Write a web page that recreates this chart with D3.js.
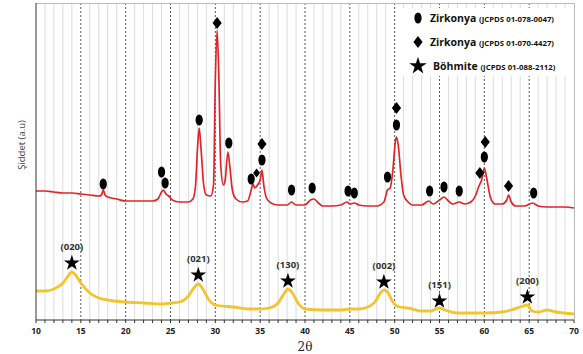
<!DOCTYPE html>
<html>
<head>
<meta charset="utf-8">
<script src="https://cdn.jsdelivr.net/npm/d3@7"></script>
<style>
  body { margin: 0; background: #fff; }
  svg { display: block; font-family: 'Open Sans', 'Noto Sans', sans-serif; }
</style>
</head>
<body>
<div id="chart"></div>
<script>
const WIDTH = 583;
const HEIGHT = 354;
const MARGIN = { top: 3, right: 9, bottom: 34, left: 36 };

// 2θ positions and intensities (a.u.)
const zirkTheta = [10, 11, 12, 13, 14, 15, 16, 17, 17.3, 17.5, 17.7, 18, 19, 20, 21, 22, 23, 23.6, 24.0, 24.2, 24.5, 24.8, 25.2, 26, 27, 27.5, 27.8, 28.0, 28.2, 28.4, 28.7, 29.0, 29.5, 29.8, 30.0, 30.2, 30.4, 30.6, 30.9, 31.1, 31.4, 31.6, 31.9, 32.3, 33, 33.6, 34.0, 34.2, 34.4, 34.7, 35.0, 35.2, 35.4, 35.7, 36.2, 37, 38, 38.5, 39, 40, 40.6, 41, 41.5, 42, 43, 44, 44.7, 45, 45.5, 46, 47, 48, 48.8, 49.2, 49.5, 49.8, 50.1, 50.2, 50.4, 50.7, 51.0, 51.5, 52, 53, 53.8, 54.3, 55.0, 55.5, 56, 56.5, 57.2, 57.8, 58.5, 59.0, 59.4, 59.7, 60.0, 60.3, 60.7, 61.2, 62, 62.5, 62.7, 63.0, 63.5, 64.5, 65.4, 66, 67, 68, 69, 70];
const zirkIntensity = [129, 129, 128, 127, 127, 126, 125, 124, 125, 130, 125, 123, 121, 119, 119, 119, 119, 121, 128, 130, 126, 124, 120, 118, 118, 121, 135, 170, 192, 172, 135, 125, 124, 135, 240, 290, 240, 155, 135, 140, 168, 155, 130, 121, 118, 119, 130, 136, 132, 135, 140, 150, 135, 122, 117, 115, 115, 118, 115, 115, 120, 121, 117, 114, 114, 115, 118, 116, 117, 115, 114, 114, 118, 130, 132, 150, 180, 183, 175, 145, 125, 118, 115, 115, 119, 116, 120, 123, 119, 116, 118, 116, 118, 124, 134, 140, 152, 140, 122, 116, 116, 120, 125, 118, 114, 114, 117, 114, 113, 113, 113, 112];

const bohmTheta = [10, 11, 12, 13, 13.5, 14.0, 14.4, 15, 16, 17, 18, 20, 22, 24, 25, 26, 27, 27.6, 28.1, 28.6, 29.3, 30, 32, 34, 35, 36, 37, 37.7, 38.1, 38.6, 39.3, 40, 42, 44, 45, 46, 47, 47.8, 48.4, 48.8, 49.2, 49.8, 50.5, 51.5, 53, 54, 55, 55.6, 57, 58, 60, 62, 63, 64, 64.8, 65.3, 66, 67, 68, 70];
const bohmIntensity = [29, 29, 31, 37, 43, 48, 45, 37, 27, 22, 20, 18, 17, 16, 17, 18, 24, 32, 36, 31, 20, 15, 13, 11, 11, 12, 17, 27, 31, 27, 16, 11, 10, 10, 11, 11, 13, 18, 27, 30, 28, 18, 13, 12, 9, 9, 12, 10, 7, 7, 7, 8, 10, 13, 15, 9, 8, 10, 8, 6];

// phase markers: [2θ, height]
const ovalMarks = [[17.5, 136], [24.0, 148], [24.4, 137], [28.2, 200], [31.5, 177], [34.0, 141], [35.2, 160], [38.5, 130], [40.8, 132], [44.8, 129], [45.5, 127], [49.2, 143], [50.2, 195], [53.9, 129], [55.5, 133], [57.2, 129], [60.0, 163], [65.5, 127]];
const diamondMarks = [[30.2, 297], [34.6, 147], [35.2, 176], [50.2, 212], [59.5, 147], [60.1, 178], [62.7, 134]];
const starMarks = [[14.0, 57], [28.1, 45], [38.1, 39], [48.8, 38], [55.0, 19], [64.8, 23]];
const starLabels = ['(020)', '(021)', '(130)', '(002)', '(151)', '(200)'];

const legendNames = ['Zirkonya', 'Zirkonya', 'Böhmite'];
const legendCards = ['(JCPDS 01-078-0047)', '(JCPDS 01-070-4427)', '(JCPDS 01-088-2112)'];

const xTicks = d3.range(10, 71, 5);

const svg = d3.select('#chart').append('svg')
  .attr('width', WIDTH)
  .attr('height', HEIGHT);

const innerW = WIDTH - MARGIN.left - MARGIN.right;
const innerH = HEIGHT - MARGIN.top - MARGIN.bottom;

const x = d3.scaleLinear().domain([10, 70]).range([MARGIN.left, MARGIN.left + innerW]);
const y = d3.scaleLinear().domain([0, innerH]).range([MARGIN.top + innerH, MARGIN.top]);

// grid: thin grey each degree, dashed every 5
const g = svg.append('g');
g.selectAll('line.minor')
  .data(d3.range(11, 70).filter((d) => d % 5 !== 0))
  .join('line')
  .attr('class', 'minor')
  .attr('x1', (d) => x(d)).attr('x2', (d) => x(d))
  .attr('y1', MARGIN.top).attr('y2', MARGIN.top + innerH)
  .attr('stroke', '#dcdcdc')
  .attr('stroke-width', 1);

g.selectAll('line.major')
  .data(xTicks.filter((d) => d > 10 && d < 70))
  .join('line')
  .attr('class', 'major')
  .attr('x1', (d) => x(d)).attr('x2', (d) => x(d))
  .attr('y1', MARGIN.top).attr('y2', MARGIN.top + innerH)
  .attr('stroke', '#555')
  .attr('stroke-width', 1)
  .attr('stroke-dasharray', '2,2');

// frame
g.append('path')
  .attr('d', `M${x(10)},${MARGIN.top + 0.5}H${x(70) + 0.5}V${MARGIN.top + innerH}`)
  .attr('fill', 'none')
  .attr('stroke', '#bbb');

// curves
const line = d3.line()
  .x((d) => x(d[0]))
  .y((d) => y(d[1]))
  .curve(d3.curveMonotoneX);

g.append('path')
  .datum(bohmTheta.map((t, i) => [t, bohmIntensity[i]]))
  .attr('d', line)
  .attr('fill', 'none')
  .attr('stroke', '#f3c42f')
  .attr('stroke-width', 2.8);

g.append('path')
  .datum(zirkTheta.map((t, i) => [t, zirkIntensity[i]]))
  .attr('d', line)
  .attr('fill', 'none')
  .attr('stroke', '#e0252a')
  .attr('stroke-width', 1.7);

// axes
const xAxis = svg.append('g')
  .attr('transform', 'translate(0,' + (MARGIN.top + innerH) + ')');
xAxis.append('line')
  .attr('x1', x(10)).attr('x2', x(70))
  .attr('stroke', '#333');
xAxis.selectAll('line.tick')
  .data(d3.range(10, 71))
  .join('line')
  .attr('class', 'tick')
  .attr('x1', (d) => x(d)).attr('x2', (d) => x(d))
  .attr('y1', 0).attr('y2', 3)
  .attr('stroke', '#333');
xAxis.selectAll('text')
  .data(xTicks)
  .join('text')
  .attr('x', (d) => x(d))
  .attr('y', 14)
  .attr('text-anchor', 'middle')
  .style('font-size', '8.5px')
  .style('font-weight', 'bold')
  .attr('fill', '#222')
  .text((d) => d);

svg.append('line')
  .attr('x1', x(10)).attr('x2', x(10))
  .attr('y1', MARGIN.top).attr('y2', MARGIN.top + innerH)
  .attr('stroke', '#333');

svg.append('text')
  .attr('x', (x(10) + x(70)) / 2)
  .attr('y', 351)
  .attr('text-anchor', 'middle')
  .style('font-family', "'DejaVu Serif', serif")
  .style('font-size', '12px')
  .attr('fill', '#222')
  .text('2θ');

svg.append('text')
  .attr('transform', 'translate(25,145) rotate(-90)')
  .attr('text-anchor', 'middle')
  .style('font-size', '9.5px')
  .attr('fill', '#444')
  .text('Şiddet (a.u)');

// marker symbols
const oval = (sel, s) => sel.append('ellipse').attr('rx', 3.6 * s).attr('ry', 5.6 * s).attr('fill', '#000');
const diamond = (sel, s) => sel.append('path')
  .attr('d', `M0,${-6 * s}L${4.6 * s},0L0,${6 * s}L${-4.6 * s},0Z`).attr('fill', '#000');
const star = (sel, s) => sel.append('path')
  .attr('d', d3.symbol(d3.symbolStar, 78 * s * s)()).attr('fill', '#000');

const marks = svg.append('g');
ovalMarks.forEach((d) => oval(marks.append('g').attr('transform', `translate(${x(d[0])},${y(d[1])})`), 1));
diamondMarks.forEach((d) => diamond(marks.append('g').attr('transform', `translate(${x(d[0])},${y(d[1])})`), d[0] === 34.6 ? 0.75 : 1));
starMarks.forEach((d, i) => {
  const m = marks.append('g').attr('transform', `translate(${x(d[0])},${y(d[1])})`);
  star(m, 1);
  m.append('text')
    .attr('y', -13)
    .attr('text-anchor', 'middle')
    .style('font-size', '9.5px')
    .style('font-weight', 'bold')
    .attr('fill', '#333')
    .text(starLabels[i]);
});

// legend
const legend = svg.append('g').attr('transform', 'translate(403,8)');
legend.append('rect')
  .attr('width', 166).attr('height', 68)
  .attr('fill', '#fff');
const shapes = [oval, diamond, star];
legendNames.forEach((name, i) => {
  const row = legend.append('g').attr('transform', `translate(15,${10 + i * 24})`);
  shapes[i](row.append('g'), i === 2 ? 1.1 : 1);
  const t = row.append('text')
    .attr('x', i === 2 ? 15 : 12)
    .attr('y', 4)
    .attr('fill', '#111')
    .style('font-weight', 'bold');
  t.append('tspan').style('font-size', '10.5px').text(name + ' ');
  t.append('tspan').style('font-size', '7.8px').text(legendCards[i]);
});
</script>
</body>
</html>
